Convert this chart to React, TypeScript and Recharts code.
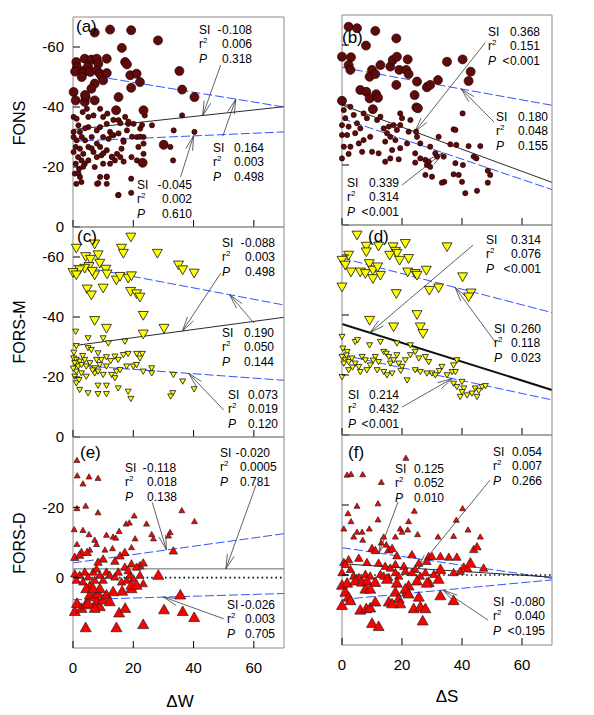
import React from 'react';
import { ScatterChart, Scatter, XAxis, YAxis, ReferenceLine } from 'recharts';

const FONT = '"Liberation Sans", Arial, Helvetica, sans-serif';
const W = 594;
const H = 715;

type Pt = [number, number];

// ---------- tick values ----------
const xTicks = [0, 20, 40, 60];
const yTicksUpper = [-60, -40, -20, 0];
const yTicksLower = [-20, 0];

// ---------- (a) FONS vs ΔW ----------
const fonsW_big: Pt[] = [
  [7.2, -64.8], [12.3, -65.8], [19.3, -65.6], [28.2, -62.2], [16.2, -59.7], [17.3, -55], [17.9, -54.2],
  [1.1, -55], [1.3, -53.3], [0.7, -51.8], [3.9, -56.1], [6.1, -55.8], [7.9, -56.1], [8.4, -54.4], [11.2, -56.1],
  [3.9, -52.2], [5, -53.5], [3.2, -51.2], [5.7, -51.7], [2.9, -50], [7.9, -52.2], [8.9, -51.1], [9.5, -50.2],
  [11.2, -51.3], [10, -48.9], [7.2, -47.8], [6.1, -46.1], [19, -50.6], [21.1, -51.1], [22.2, -48.3], [19.3, -46.4],
  [35.3, -52], [36.2, -45.8], [40.3, -43.3], [0.2, -45], [0.9, -42.2], [3.9, -41.7], [4.2, -43.3], [4, -44],
  [7.2, -42.2], [15.1, -43.3], [14.3, -38.9], [23.4, -38.9], [30.1, -27.4], [23.1, -21.4],
];
const fonsW_small: Pt[] = [
  [0.2, -36.7], [1.2, -36.1], [1.8, -33.9], [0.2, -31.7], [2.3, -31.7], [0.2, -30], [1.2, -28.9], [2.9, -30],
  [4, -28.9], [0.9, -26.7], [2.3, -26.1], [0.2, -25], [3.4, -24.4], [1.7, -23.3], [2.8, -22.2], [0.9, -21.1],
  [3.9, -21.1], [2, -19.4], [0.6, -17.8], [2.3, -16.7], [1.1, -14.4], [2.8, -15], [5.1, -36.7], [6.8, -37.2],
  [5.1, -33.3], [7.9, -32.2], [9, -33.3], [10, -36.7], [11.2, -34.4], [6.2, -30], [7.9, -27.8], [9, -26.7],
  [10, -30], [11.8, -29.4], [12.3, -31.7], [13.4, -30.6], [5.1, -26.7], [6.8, -25], [7.9, -23.3], [9.4, -23.9],
  [11.2, -25.6], [12.9, -23.3], [14.6, -24.4], [5.1, -22.2], [7.2, -20], [10, -21.1], [12.3, -21.1], [13.9, -22.2],
  [15.7, -23.3], [16.1, -26.1], [16.7, -28.9], [17.9, -32.2], [18.3, -34.4], [20.1, -34.4], [17.3, -36.7],
  [15.1, -35.6], [21.2, -30], [22.3, -32.8], [23.4, -30], [23.4, -27.8], [21.7, -26.7], [21.2, -22.2],
  [19.4, -23.3], [23.4, -24.4], [9, -16.7], [11.2, -16.7], [8, -14.4], [11.2, -14.4], [15, -10.6], [19.3, -16.1],
  [19.3, -11.4], [26.2, -33.9], [23.8, -37.2], [33.4, -32.2], [36.2, -37.2], [33.2, -22.2], [32.3, -26.7],
  [40.3, -31.7], [4.6, -39.4], [9, -39.4], [11.4, -37.8], [3.2, -38.3], [13.4, -35.7], [15.7, -34.6],
  [18.4, -35.1], [22.9, -34], [12.9, -30.7], [15.1, -31.2], [16.8, -28.4], [19.6, -30.1], [22.3, -30.1],
  [10.1, -24.6], [12.9, -23.4], [16.8, -21.8], [4, -32.9], [6.2, -26.2], [3.4, -20.1], [1.8, -17.9],
  [8.4, -14.6], [11.2, -16.8], [15.1, -10.7],
];
const fonsW_upper: Pt[] = [[0, -51.5], [70, -40]];
const fonsW_median: Pt[] = [[0, -32.5], [70, -40.1]];
const fonsW_lower: Pt[] = [[0, -28.6], [70, -31.7]];

// ---------- (b) FONS vs ΔS ----------
const fonsS_big: Pt[] = [
  [2.2, -66.1], [5, -65.6], [11.1, -64.7], [8, -59.8], [18.1, -62.2], [0, -56.1], [3, -55.9], [2.2, -53.3],
  [2.8, -51.7], [10, -51.7], [9.2, -49.4], [11.1, -50.3], [12.8, -53.3], [16.1, -52.8], [16.9, -55], [18.3, -56.1],
  [19.1, -51.7], [21.4, -51.7], [22.2, -50.3], [21.9, -55.2], [18.1, -46.7], [25, -47.8], [28.3, -45.9],
  [29.4, -46.7], [32, -48.3], [35, -54.4], [40.2, -55.2], [42.9, -51.1], [42.2, -48], [6.1, -45], [8.1, -44.4],
  [11.4, -43.6], [9.2, -42.2], [12, -42.4], [0, -41.4], [24.2, -43.3], [24.8, -39.2], [25.3, -38.9], [10.3, -38.6],
];
const fonsS_small: Pt[] = [
  [0.6, -38.3], [2.8, -39.4], [3.9, -36.7], [1.1, -35.6], [0, -33.3], [2.2, -32.8], [5, -33.9], [7.2, -37.2],
  [8.3, -35.6], [11.7, -35], [12.8, -36.1], [0, -30], [1.7, -30], [4.4, -30.6], [6.1, -32.2], [9.4, -29.4],
  [7.2, -28.3], [0.6, -26.1], [2.8, -26.1], [5.6, -27.2], [6.7, -24.4], [0, -22.2], [2.2, -23.7], [10, -24.4],
  [12.2, -23.9], [13.9, -32.2], [15.6, -32.8], [17.2, -33.3], [18.3, -31.7], [15, -30.6], [16.1, -29.4],
  [17.8, -28.3], [14.4, -27.8], [19.4, -37.2], [20, -35.6], [19.4, -33.3], [22.8, -35], [22.2, -31.1],
  [24.7, -31.1], [25, -29.4], [26.1, -27.2], [21.7, -27.2], [19.4, -25.6], [16.7, -25], [14.4, -21.1],
  [16.1, -22.2], [18.9, -21.9], [24.4, -23.9], [26.1, -22.2], [27.8, -21.7], [28.3, -20], [28.9, -21.1],
  [29.4, -26.1], [32.2, -29.4], [29.4, -19.4], [27.8, -16.7], [30, -16.1], [31.1, -23.9], [31.7, -22.8],
  [33.9, -22.8], [36.1, -26.9], [38.1, -26.7], [37.2, -31.9], [37.8, -31.7], [40.2, -37.2], [42.2, -26.3],
  [46.1, -26.3], [37.8, -20.6], [40.3, -20], [43.9, -22.8], [44.8, -22.2], [48.6, -18.1], [49.4, -16.7],
  [48.6, -14.1], [45, -11.4], [41.1, -10.6], [40, -14.4], [38.9, -16.7], [37.2, -16.9], [34.1, -14.4],
  [33.3, -14.1], [24.4, -20.8],
];
const fonsS_upper: Pt[] = [[0, -52.5], [70, -39.9]];
const fonsS_median: Pt[] = [[0, -40], [70, -14.2]];
const fonsS_lower: Pt[] = [[0, -35.5], [70, -11.8]];

// ---------- (c) FORS-M vs ΔW ----------
const formW_big: Pt[] = [
  [1.1, -63], [7.2, -64.4], [19.2, -66.7], [16.1, -63], [16.7, -61.3], [28, -61.3], [4.2, -60.2], [5.8, -59.3],
  [8.3, -60.8], [8.9, -58], [10.9, -56], [7.2, -54.1], [5.3, -56.9], [3.9, -56.3], [2.2, -55.8], [0, -54.9],
  [1.1, -54.1], [6.4, -55.3], [11.3, -54.4], [14.4, -52.4], [15.6, -53.6], [18.3, -53], [19.4, -53.8],
  [19.1, -48.6], [21.1, -47.8], [22.2, -46.7], [10, -49.7], [4.7, -49.4], [6.1, -47.4], [35, -57.4],
  [36.4, -55.8], [40.2, -54.7], [23.3, -40.6], [7.2, -38.9], [11.1, -36.3], [23.3, -34.4], [30.2, -36.3],
];
const formW_small: Pt[] = [
  [0.9, -35.2], [5, -33], [10, -33], [11.7, -31.3], [17.2, -31.9], [1.1, -30.4], [5, -29.7], [6.1, -29.1],
  [8.3, -28], [9.4, -25.8], [11.1, -26.7], [13.9, -26.9], [15, -25.8], [16.7, -27.4], [18.3, -27.8], [21.1, -27.8],
  [22.2, -26.3], [23, -27.8], [0.2, -26.3], [1.1, -25.8], [2.2, -25.2], [0.6, -24.7], [1.7, -23.6], [2.8, -24.1],
  [3.9, -25.8], [4.4, -23.6], [5.6, -24.7], [7.8, -25.8], [7.2, -23], [8.9, -24.1], [11.1, -23.6], [1.1, -21.9],
  [2.8, -21.3], [4.4, -20.2], [0.6, -20.2], [7.2, -21.3], [8.3, -21.9], [10, -20.8], [12.8, -20.8], [14.4, -21.9],
  [15.6, -22.4], [13.9, -19.7], [17.8, -23.6], [20, -23.6], [21.1, -24.1], [26.1, -23], [26.1, -21.3],
  [23.3, -21.9], [1.1, -18], [2.2, -15.8], [5, -14.7], [8.3, -17.2], [8.3, -14.4], [11.1, -17.2], [11.1, -14.4],
  [15, -16.3], [18.3, -15.2], [19.2, -12.8], [33.3, -20.8], [36.4, -18.6], [40.2, -16], [33.1, -14.7],
  [32.4, -13.6], [0.3, -28.2], [3.2, -27.1], [0.1, -22.9], [2, -19.1], [6.5, -22.3], [12.5, -25.4],
];
const formW_upper: Pt[] = [[0, -57.3], [70, -44]];
const formW_median: Pt[] = [[0, -30.4], [70, -39.9]];
const formW_lower: Pt[] = [[0, -24], [70, -18.9]];

// ---------- (d) FORS-M vs ΔS ----------
const formS_big: Pt[] = [
  [5, -66.7], [8.1, -63], [8.1, -61.1], [12.2, -63], [17, -62.8], [17.8, -61.3], [18.3, -60.6], [21.1, -63.9],
  [15.9, -60], [19.2, -58.3], [22.2, -58.9], [2.2, -60], [0, -58.3], [1.1, -56.7], [3, -54.4], [6.1, -54.4],
  [7.8, -53.9], [9.1, -57.2], [10.3, -55], [11.9, -56.1], [10.3, -52.2], [12.8, -53.3], [21.9, -54.4],
  [24.4, -53.9], [25, -53.3], [28.1, -55], [35, -62.8], [40.2, -52.8], [29.1, -48.3], [32.2, -49.1], [43, -47.4],
  [42.2, -46.1], [0, -49.4], [18.1, -47.2], [9.2, -38.3], [17.2, -36.1], [25, -40.2], [26.1, -36.1], [27, -33.9],
];
const formS_small: Pt[] = [
  [0, -32.8], [0.3, -28.9], [1.7, -27.8], [4.4, -31.1], [5.2, -31.7], [9.2, -30], [12.8, -31.1], [0, -26.1],
  [1.1, -25], [0.6, -23.9], [2.2, -24.4], [3.3, -25.6], [4.4, -23.9], [5.6, -22.8], [6.7, -26.1], [7.8, -25],
  [9.4, -23.3], [11.1, -26.1], [12.2, -24.4], [13.9, -27.8], [14.8, -27.2], [15.6, -26.1], [16.1, -23.9],
  [17.2, -25], [18.3, -26.7], [18.9, -23.9], [20, -22.8], [18.3, -30.6], [22.8, -30], [24.4, -27.8], [25.6, -25.6],
  [27.8, -26.1], [28.9, -24.4], [22.8, -26.7], [21.1, -25], [11.7, -21.7], [13.9, -21.1], [15, -20], [16.7, -20.6],
  [8.3, -21.7], [6.1, -21.1], [0, -19.4], [2.2, -21.7], [21.7, -18.3], [24.4, -21.7], [26.1, -21.1], [28.3, -20.6],
  [30, -20.6], [31.1, -20], [33.3, -22.8], [35, -20], [36.7, -21.1], [37.8, -21.1], [38.3, -25], [37.2, -23.3],
  [37.2, -17.2], [38.3, -16.1], [40, -17.8], [40.6, -15.6], [39.4, -12.8], [41.7, -13.3], [44.4, -15.6],
  [45.6, -14.8], [46.7, -16.1], [47.8, -16.4], [45, -12.8], [43.3, -13.9], [40, -14.4], [1.5, -26.6],
  [3.5, -22.6], [10.4, -24.9], [19.6, -21.5], [32.4, -21.4],
];
const formS_upper: Pt[] = [[0, -59], [70, -40.8]];
const formS_median: Pt[] = [[0, -37], [70, -15]];
const formS_lower: Pt[] = [[0, -26.7], [70, -11.7]];

// ---------- (e) FORS-D vs ΔW ----------
const fordW_small: Pt[] = [
  [1.3, -33.4], [1.4, -29], [5.3, -28.7], [8.3, -28.3], [3.3, -26.7], [1.3, -19.7], [4.2, -20.4], [8.3, -18.5],
  [0.4, -13.7], [3.3, -13.5], [5.3, -12.3], [1.3, -9.5], [7.2, -10.7], [7.8, -9.5], [11.1, -12.1], [13.3, -11.6],
  [14.2, -11.3], [15.3, -13.2], [17.6, -15.3], [18.7, -15.6], [20.3, -17.6], [24.4, -15.3], [13.1, -8.3],
  [19.4, -8.6], [20.6, -11.1], [26.1, -12.3], [26.7, -11.1], [32.2, -12.9], [31.7, -11.9], [36.1, -19.1],
  [40.3, -16], [10.6, -7.9], [5.6, -7.9],
];
const fordW_mid: Pt[] = [
  [2.8, -7.2], [4.7, -7.2], [0.6, -5.8], [2.2, -6.4], [13.9, -4.7], [15.6, -6.2], [17.2, -7.2], [19.4, -3.9],
  [10, -5.3], [8.3, -4.4], [33.3, -7.6], [22.2, -3.4], [23.3, -4.2], [21.1, -3], [17.2, -3], [0.6, -1.1],
  [2.2, -0.7], [3.9, -1.6], [5, -0.2], [6.7, -1.6], [7.8, -2.5], [8.9, -0.7], [10, 0.7], [11.1, -1.6],
  [12.2, -0.7], [13.9, -0.2], [15, -1.6], [16.1, 1.2], [17.8, 0.7], [18.9, -0.7], [20, 0.3], [22.2, -0.7],
  [23.3, 1.7], [18.3, -2], [1.1, 0.7], [3.3, 1.2], [5.6, 2.1], [7.2, 0.7],
];
const fordW_big: Pt[] = [
  [28.3, -0.7], [4.4, 3.1], [0.6, 9.6], [1.3, 7.3], [2.8, 8.7], [4.2, 7.7], [4.2, 14.2], [5.6, 4.9], [7.2, 5.4],
  [7.8, 6.8], [8.3, 4.5], [8.9, 8.2], [10, 6.3], [11.1, 4.9], [12.2, 6.8], [8.9, 3.1], [7.2, 8.7], [6.7, 3.1],
  [14.4, 14.2], [15.3, 10], [16.3, 3.8], [17.3, 8.7], [19.4, 3.1], [19.4, 2.1], [23.3, 13.3], [30.2, 9.1],
  [35.6, 4.9], [36.4, 9.6], [40.2, 11.3], [21.1, 2.1], [13.3, 4], [5, 7.3],
];
const fordW_upper: Pt[] = [[0, -4.2], [70, -12.5]];
const fordW_median: Pt[] = [[0, -2.5], [70, -2.5]];
const fordW_lower: Pt[] = [[0, 6.3], [70, 4.5]];
const fordW_zero: Pt[] = [[0, 0], [70, 0]];

// ---------- (f) FORS-D vs ΔS ----------
const fordS_small: Pt[] = [
  [21.3, -33.4], [1.7, -28.6], [3, -28.8], [6.9, -28.7], [13.1, -26.5], [5, -19.7], [12, -20.4], [24.1, -18.3],
  [40.2, -19], [2, -17.6], [3, -15.3], [12, -15.8], [22.2, -15.3], [0.6, -13.2], [5, -12.3], [6.7, -12.3],
  [9.1, -13.2], [19.4, -13.2], [21.9, -12.9], [20, -12.3], [3.9, -10.9], [6.9, -10], [13.9, -10.9], [17.8, -10.9],
  [25.2, -11.6], [32, -10.9], [38.1, -15.7], [37.2, -11.1], [42, -12.9], [46.1, -10.9], [13.1, -9.2], [14.8, -8.6],
];
const fordS_mid: Pt[] = [
  [10, -7.6], [15.6, -7.2], [16.7, -7.6], [11.1, -7], [18.3, -5.5], [23.3, -5.8], [28.9, -5.3], [30, -5.3],
  [32.8, -5.3], [35.6, -5.1], [38.3, -5.1], [43.9, -7.3], [45, -8.1], [2.2, -4.4], [5.6, -4.8], [8.3, -3.6],
  [12.2, -3.4], [14.4, -2.5], [16.1, -2], [17.8, -3], [20.6, -2.5], [24.4, -1.6], [25.6, -3.4], [28.3, -3.9],
  [40.6, -2.3], [41.9, -1.8], [47.2, -2], [0.6, -3.6], [1.1, -3], [0, -0.7], [2.8, -1.6], [3.9, 0.3], [5.6, 0.7],
  [7.8, -0.2], [9.4, 0.3], [12.8, -0.2], [13.9, 0.3], [15.6, 0.7], [17.8, -0.7], [18.9, 0.3], [21.1, -1.1],
  [23.3, -0.7], [26.1, 0.3], [27.8, -0.7], [30.6, -0.2], [37.2, -0.7], [39.4, -1.1],
];
const fordS_big: Pt[] = [
  [42.8, -3.4], [32.8, -1.6], [0, 2.9], [1.7, 2.3], [4.4, 1.7], [6.7, 2], [8.3, 1.7], [11.1, 2.1], [15, 1.2],
  [18.3, 2.3], [22.2, 3.1], [25, 1.7], [28.9, 2.1], [32.2, 1.2], [1.1, 4.9], [2.2, 6.3], [2.8, 7.3], [7.8, 4],
  [9.4, 4], [0, 8.7], [6.1, 10], [8.1, 9.6], [9.4, 9.4], [11.1, 7.7], [10, 13.8], [12.2, 14.7], [15.6, 7.7],
  [17.8, 4.9], [18.9, 6.8], [19.4, 8.2], [21.7, 4.9], [21.1, 4], [22.2, 5.4], [23.9, 9.6], [26.1, 9.1],
  [26.9, 13.1], [27.8, 9.6], [25.6, 6.3], [28.3, 2.3], [32.8, 5.9], [37.2, 7.3], [16.7, 8.2],
];
const fordS_upper: Pt[] = [[0, -7.8], [70, 0.95]];
const fordS_median: Pt[] = [[0, -3.2], [70, 0.6]];
const fordS_lower: Pt[] = [[0, 7], [70, 1.4]];
const fordS_zero: Pt[] = [[0, 0], [70, 0]];

// ---------- regression statistics (text) ----------
const statsA = [['-0.108', '0.006', '0.318'], ['0.164', '0.003', '0.498'], ['-0.045', '0.002', '0.610']];
const statsB = [['0.368', '0.151', '<0.001'], ['0.180', '0.048', '0.155'], ['0.339', '0.314', '<0.001']];
const statsC = [['-0.088', '0.003', '0.498'], ['0.190', '0.050', '0.144'], ['0.073', '0.019', '0.120']];
const statsD = [['0.314', '0.076', '<0.001'], ['0.260', '0.118', '0.023'], ['0.214', '0.432', '<0.001']];
const statsE = [['-0.118', '0.018', '0.138'], ['-0.020', '0.0005', '0.781'], ['-0.026', '0.003', '0.705']];
const statsF = [['0.125', '0.052', '0.010'], ['0.054', '0.007', '0.266'], ['-0.080', '0.040', '<0.195']];

// ---------- styling helpers ----------
const BLUE = '#3553ff';
const toObj = (arr: Pt[]) => arr.map(([x, y]) => ({ x, y }));

const circleShape = (r: number) => (p: any) =>
  p.cx == null ? <g /> : <circle cx={p.cx} cy={p.cy} r={r} fill="#5e0b0b" stroke="#2a0000" strokeWidth={0.7} />;
const triDownShape = (s: number) => (p: any) =>
  p.cx == null ? <g /> : (
    <path d={`M${p.cx - s},${p.cy - s * 0.75}L${p.cx + s},${p.cy - s * 0.75}L${p.cx},${p.cy + s}Z`}
      fill="#ffff00" stroke="#111" strokeWidth={0.8} />
  );
const triUpShape = (s: number) => (p: any) =>
  p.cx == null ? <g /> : (
    <path d={`M${p.cx},${p.cy - s}L${p.cx + s},${p.cy + s * 0.75}L${p.cx - s},${p.cy + s * 0.75}Z`}
      fill="#ff0000" stroke="#222" strokeWidth={0.7} />
  );

type LineSpec = { pts: Pt[]; stroke: string; width: number; dash?: string };
type ArrowSpec = { from: Pt; to: Pt };
type SeriesSpec = { data: Pt[]; shape: any };

type PanelCfg = {
  key: string;
  left: number; top: number; width: number; height: number;
  yDomain: [number, number];
  yTicks: number[];
  labelSide: 'left' | 'right';
  showX: boolean;
  series: SeriesSpec[];
  lines: LineSpec[];
  arrows: ArrowSpec[];
};

const blue = (pts: Pt[]): LineSpec => ({ pts, stroke: BLUE, width: 1, dash: '9 3' });
const black = (pts: Pt[], width = 1): LineSpec => ({ pts, stroke: '#111', width });

const panels: PanelCfg[] = [
  {
    key: 'a', left: 73, top: 17, width: 211, height: 210, yDomain: [-70, 0], yTicks: yTicksUpper,
    labelSide: 'left', showX: false,
    series: [{ data: fonsW_small, shape: circleShape(2.6) }, { data: fonsW_big, shape: circleShape(4.5) }],
    lines: [blue(fonsW_upper), black(fonsW_median, 0.9), blue(fonsW_lower)],
    arrows: [
      { from: [49, -54], to: [43, -37.1] },
      { from: [49.7, -30.3], to: [54, -42.6] },
      { from: [35.7, -16.7], to: [40, -30.4] },
    ],
  },
  {
    key: 'b', left: 342, top: 15, width: 210, height: 210, yDomain: [-70, 0], yTicks: yTicksUpper,
    labelSide: 'right', showX: false,
    series: [{ data: fonsS_small, shape: circleShape(2.6) }, { data: fonsS_big, shape: circleShape(4.5) }],
    lines: [blue(fonsS_upper), black(fonsS_median, 0.9), blue(fonsS_lower)],
    arrows: [
      { from: [47.7, -60.7], to: [24.3, -31.1] },
      { from: [50.7, -34.3], to: [39.7, -45.4] },
      { from: [20, -13.3], to: [33.7, -24.1] },
    ],
  },
  {
    key: 'c', left: 73, top: 227, width: 211, height: 210, yDomain: [-70, 0], yTicks: yTicksUpper,
    labelSide: 'left', showX: false,
    series: [{ data: formW_small, shape: triDownShape(3) }, { data: formW_big, shape: triDownShape(5) }],
    lines: [blue(formW_upper), black(formW_median, 0.9), blue(formW_lower)],
    arrows: [
      { from: [49, -54.6], to: [36.3, -35.3] },
      { from: [60, -38], to: [52, -47.4] },
      { from: [50, -9], to: [38.4, -21.2] },
    ],
  },
  {
    key: 'd', left: 342, top: 225, width: 210, height: 210, yDomain: [-70, 0], yTicks: yTicksUpper,
    labelSide: 'right', showX: false,
    series: [{ data: formS_small, shape: triDownShape(3) }, { data: formS_big, shape: triDownShape(5) }],
    lines: [blue(formS_upper), black(formS_median, 2), blue(formS_lower)],
    arrows: [
      { from: [43.7, -63.3], to: [9.3, -34.1] },
      { from: [51.3, -30.7], to: [37.7, -49.2] },
      { from: [20, -9.3], to: [36.7, -18.8] },
    ],
  },
  {
    key: 'e', left: 73, top: 437, width: 211, height: 211, yDomain: [-40, 20], yTicks: yTicksLower,
    labelSide: 'left', showX: true,
    series: [
      { data: fordW_small, shape: triUpShape(3) },
      { data: fordW_mid, shape: triUpShape(4.2) },
      { data: fordW_big, shape: triUpShape(5.5) },
    ],
    lines: [
      blue(fordW_upper),
      { pts: fordW_median, stroke: '#666', width: 1 },
      blue(fordW_lower),
      { pts: fordW_zero, stroke: '#111', width: 1.6, dash: '1.6 3' },
    ],
    arrows: [
      { from: [26.3, -21.4], to: [31, -7.9] },
      { from: [60.7, -26.3], to: [50.7, -2.5] },
      { from: [50, 11.7], to: [30, 5.5] },
    ],
  },
  {
    key: 'f', left: 342, top: 435, width: 210, height: 210, yDomain: [-40, 20], yTicks: yTicksLower,
    labelSide: 'right', showX: true,
    series: [
      { data: fordS_small, shape: triUpShape(3) },
      { data: fordS_mid, shape: triUpShape(4.2) },
      { data: fordS_big, shape: triUpShape(5.5) },
    ],
    lines: [
      blue(fordS_upper),
      black(fordS_median, 0.9),
      blue(fordS_lower),
      { pts: fordS_zero, stroke: '#111', width: 1.6, dash: '1.6 3' },
    ],
    arrows: [
      { from: [18.7, -20.9], to: [12.3, -6.3] },
      { from: [49.3, -27.1], to: [25.3, -1.8] },
      { from: [48.7, 12.9], to: [33.7, 4.3] },
    ],
  },
];

// ---------- ticks ----------
const TICK = 7;
const XTick = (props: any, pos: 'top' | 'bottom', show: boolean) => {
  const { x, y, payload } = props;
  const dir = pos === 'top' ? 1 : -1;
  return (
    <g>
      <line x1={x} y1={y} x2={x} y2={y + dir * TICK} stroke="#000" strokeWidth={1} />
      {show && (
        <text x={x} y={y + 25} textAnchor="middle" fontSize={15} fontFamily={FONT} fill="#000">
          {payload.value}
        </text>
      )}
    </g>
  );
};
const YTick = (props: any, side: 'left' | 'right', show: boolean) => {
  const { x, y, payload } = props;
  const dir = side === 'left' ? 1 : -1;
  return (
    <g>
      <line x1={x} y1={y} x2={x + dir * TICK} y2={y} stroke="#000" strokeWidth={1} />
      {show && (
        <text x={side === 'left' ? x - 9 : x + 9} y={y + 5.3} textAnchor={side === 'left' ? 'end' : 'start'}
          fontSize={15} fontFamily={FONT} fill="#000">
          {payload.value}
        </text>
      )}
    </g>
  );
};

// arrow head in data units, built from pixel scale of the panel
const arrowHead = (a: ArrowSpec, pxX: number, pxY: number): Pt[][] => {
  const sx = (a.from[0] - a.to[0]) * pxX;
  const sy = (a.from[1] - a.to[1]) * pxY;
  const len = Math.hypot(sx, sy) || 1;
  const ux = sx / len, uy = sy / len;
  const L = 15, ang = 0.24;
  const res: Pt[][] = [];
  [ang, -ang].forEach((t) => {
    const rx = ux * Math.cos(t) - uy * Math.sin(t);
    const ry = ux * Math.sin(t) + uy * Math.cos(t);
    res.push([a.to, [a.to[0] + (rx * L) / pxX, a.to[1] + (ry * L) / pxY]]);
  });
  return res;
};

const seg = (pts: Pt[]) => [{ x: pts[0][0], y: pts[0][1] }, { x: pts[1][0], y: pts[1][1] }];

const AX = 1; // axis thickness reserved by each axis (must be > 0 for recharts to draw it)

function Panel({ cfg }: { cfg: PanelCfg }) {
  const right = W - cfg.left - cfg.width - AX;
  const bottom = H - cfg.top - cfg.height - AX;
  const pxX = cfg.width / 70;
  const pxY = cfg.height / (cfg.yDomain[1] - cfg.yDomain[0]);
  const axisLine = { stroke: '#8a8a8a', strokeWidth: 1 };
  const common = { tickSize: 0, tickMargin: 0, tickLine: false, axisLine, interval: 0 as const };
  const arrowSegs: Pt[][] = [];
  cfg.arrows.forEach((a) => {
    arrowSegs.push([a.from, a.to]);
    arrowHead(a, pxX, pxY).forEach((h) => arrowSegs.push(h));
  });
  return (
    <div style={{ position: 'absolute', left: 0, top: 0 }}>
      <ScatterChart width={W} height={H}
        margin={{ top: cfg.top - AX, left: cfg.left - AX, right, bottom }}>
        <XAxis xAxisId="b" type="number" dataKey="x" domain={[0, 70]} ticks={xTicks} orientation="bottom"
          height={AX} {...common} tick={(p: any) => XTick(p, 'bottom', cfg.showX)} />
        <XAxis xAxisId="t" type="number" dataKey="x" domain={[0, 70]} ticks={xTicks} orientation="top"
          height={AX} {...common} tick={(p: any) => XTick(p, 'top', false)} />
        <YAxis yAxisId="l" type="number" dataKey="y" domain={cfg.yDomain} reversed ticks={cfg.yTicks}
          orientation="left" width={AX} {...common} tick={(p: any) => YTick(p, 'left', cfg.labelSide === 'left')} />
        <YAxis yAxisId="r" type="number" dataKey="y" domain={cfg.yDomain} reversed ticks={cfg.yTicks}
          orientation="right" width={AX} {...common} tick={(p: any) => YTick(p, 'right', cfg.labelSide === 'right')} />
        {cfg.series.map((s, i) => (
          <Scatter key={`s${i}`} xAxisId="b" yAxisId="l" data={toObj(s.data)} shape={s.shape}
            isAnimationActive={false} />
        ))}
        {cfg.lines.map((l, i) => (
          <ReferenceLine key={`l${i}`} xAxisId="b" yAxisId="l" segment={seg(l.pts)} stroke={l.stroke}
            strokeWidth={l.width} strokeDasharray={l.dash} ifOverflow="visible" />
        ))}
        {arrowSegs.map((s, i) => (
          <ReferenceLine key={`a${i}`} xAxisId="b" yAxisId="l" segment={seg(s)} stroke="#3a3a3a"
            strokeWidth={0.8} ifOverflow="visible" />
        ))}
      </ScatterChart>
    </div>
  );
}

// ---------- annotation text ----------
const STEP = 14.3;
const Val = ({ x, y, v }: { x: number; y: number; v: string }) => {
  const pre = /^[-<]/.test(v) ? v[0] : '';
  const rest = pre ? v.slice(1) : v;
  return (
    <>
      {pre && <text x={x - 0.5} y={y} textAnchor="end">{pre}</text>}
      <text x={x} y={y}>{rest}</text>
    </>
  );
};
const Stat = ({ x, zx, y, s }: { x: number; zx: number; y: number; s: string[] }) => (
  <g>
    <text x={x} y={y}>SI</text>
    <Val x={zx} y={y} v={s[0]} />
    <text x={x} y={y + STEP}>r<tspan dy={-5} fontSize={8}>2</tspan></text>
    <Val x={zx} y={y + STEP} v={s[1]} />
    <text x={x} y={y + 2 * STEP} fontStyle="italic">P</text>
    <Val x={zx} y={y + 2 * STEP} v={s[2]} />
  </g>
);

const statPos: { x: number; zx: number; y: number; s: string[] }[] = [
  { x: 199, zx: 222, y: 34, s: statsA[0] },
  { x: 213, zx: 234, y: 152, s: statsA[1] },
  { x: 137, zx: 162, y: 189, s: statsA[2] },
  { x: 488, zx: 510, y: 36, s: statsB[0] },
  { x: 496, zx: 518, y: 121, s: statsB[1] },
  { x: 347, zx: 369, y: 187, s: statsB[2] },
  { x: 222, zx: 245, y: 247, s: statsC[0] },
  { x: 222, zx: 244, y: 337, s: statsC[1] },
  { x: 228, zx: 248, y: 399, s: statsC[2] },
  { x: 486, zx: 511, y: 244, s: statsD[0] },
  { x: 494, zx: 511, y: 333, s: statsD[1] },
  { x: 348, zx: 369, y: 399, s: statsD[2] },
  { x: 125, zx: 147, y: 472, s: statsE[0] },
  { x: 220, zx: 240, y: 457, s: statsE[1] },
  { x: 227, zx: 245, y: 609, s: statsE[2] },
  { x: 395, zx: 414, y: 473, s: statsF[0] },
  { x: 493, zx: 512, y: 456, s: statsF[1] },
  { x: 493, zx: 515, y: 606, s: statsF[2] },
];

const panelLetters: { t: string; x: number; y: number }[] = [
  { t: '(a)', x: 76, y: 32 },
  { t: '(b)', x: 342, y: 43 },
  { t: '(c)', x: 77, y: 242 },
  { t: '(d)', x: 368, y: 242 },
  { t: '(e)', x: 80, y: 458 },
  { t: '(f)', x: 348, y: 458 },
];

const rowTitles: { t: string; y: number }[] = [
  { t: 'FONS', y: 123 },
  { t: 'FORS-M', y: 332 },
  { t: 'FORS-D', y: 543 },
];

export default function App() {
  return (
    <div style={{ position: 'absolute', left: 0, top: 0, width: W, height: H, background: '#fff', overflow: 'hidden' }}>
      {panels.map((p) => (
        <Panel key={p.key} cfg={p} />
      ))}
      <svg width={W} height={H} style={{ position: 'absolute', left: 0, top: 0, pointerEvents: 'none' }}
        fontFamily={FONT}>
        <g fontSize={12} fill="#000">
          {statPos.map((s, i) => (
            <Stat key={i} {...s} />
          ))}
        </g>
        <g fontSize={17} fill="#000">
          {panelLetters.map((l) => (
            <text key={l.t} x={l.x} y={l.y}>{l.t}</text>
          ))}
        </g>
        <g fontSize={16} fill="#000">
          {rowTitles.map((r) => (
            <text key={r.t} transform={`translate(25,${r.y}) rotate(-90)`} textAnchor="middle">{r.t}</text>
          ))}
        </g>
        <text x={180} y={707} textAnchor="middle" fontSize={17} fill="#000">ΔW</text>
        <text x={447} y={702} textAnchor="middle" fontSize={17} fill="#000">ΔS</text>
      </svg>
    </div>
  );
}
